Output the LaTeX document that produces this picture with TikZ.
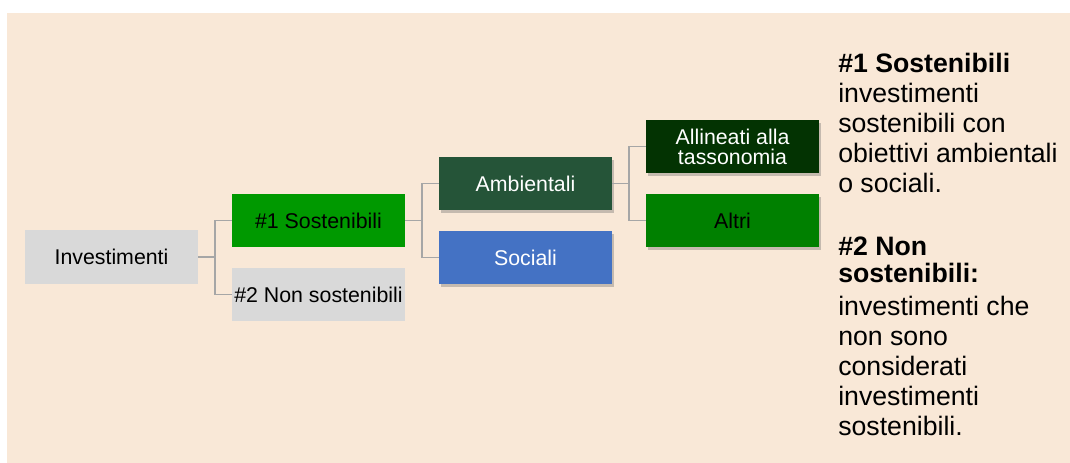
\documentclass[tikz,border=0pt]{standalone}
\usepackage{fontspec}
\setmainfont{Liberation Sans}
\usetikzlibrary{shadows}
\definecolor{bgbeige}{HTML}{F9E8D7}
\definecolor{boxgray}{HTML}{D9D9D9}
\definecolor{green1}{HTML}{009900}
\definecolor{ambgreen}{HTML}{255438}
\definecolor{allgreen}{HTML}{033302}
\definecolor{altgreen}{HTML}{008000}
\definecolor{socblue}{HTML}{4472C4}
\definecolor{connline}{HTML}{A6A6A6}
\tikzset{
  box/.style={rectangle, inner sep=0pt, minimum width=129.75pt, minimum height=39.75pt,
    font=\fontsize{16}{17.5}\selectfont, align=center},
  shad/.style={drop shadow={shadow xshift=1.5pt, shadow yshift=-2pt, opacity=0.35, fill=black!60}},
  conn/.style={draw=connline, line width=1.3pt},
  side/.style={anchor=north west, align=left, inner sep=0pt, font=\fontsize{20}{22.5}\selectfont}
}
\begin{document}
\begin{tikzpicture}[x=0.75pt, y=-0.75pt]
\useasboundingbox (0,0) rectangle (1070,463);
\fill[bgbeige] (7,13) rectangle (1070,463);

\node[box, fill=boxgray] (inv) at (111.5,257) {Investimenti};
\node[box, fill=green1] (s1) at (318.5,220.5) {\#1 Sostenibili};
\node[box, fill=boxgray] (s2) at (318.5,294.5) {\#2 Non sostenibili};
\node[box, fill=ambgreen, text=white, shad] (amb) at (525.5,183.5) {Ambientali};
\node[box, fill=socblue, text=white, shad] (soc) at (525.5,257.5) {Sociali};
\node[box, fill=allgreen, text=white, shad, font=\fontsize{16}{15}\selectfont] (all) at (732.5,146.5) {Allineati alla\\tassonomia};
\node[box, fill=altgreen, shad] (alt) at (732.5,220.5) {Altri};

\draw[conn] (inv.east) -- ++(17,0) |- (s1.west);
\draw[conn] (inv.east) -- ++(17,0) |- (s2.west);
\draw[conn] (s1.east) -- ++(17,0) |- (amb.west);
\draw[conn] (s1.east) -- ++(17,0) |- (soc.west);
\draw[conn] (amb.east) -- ++(17,0) |- (all.west);
\draw[conn] (amb.east) -- ++(17,0) |- (alt.west);

\node[side] (p1) at (838,53) {\textbf{\#1 Sostenibili}\\investimenti\\sostenibili con\\obiettivi ambientali\\o sociali.};
\node[side] (p2) at (838,237) {\textbf{\#2 Non}\\[-2.25pt]\textbf{sostenibili:}\\[2.25pt]investimenti che\\non sono\\considerati\\investimenti\\sostenibili.};
\end{tikzpicture}
\end{document}
